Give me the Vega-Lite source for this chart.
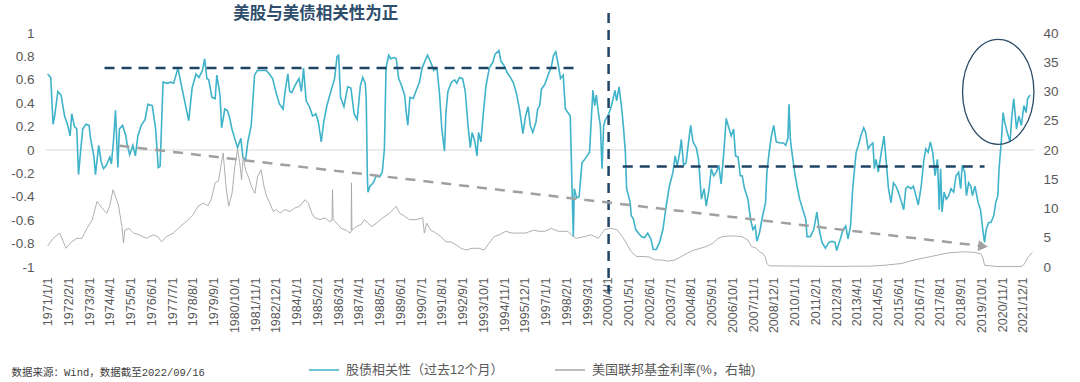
{
"$schema": "https://vega.github.io/schema/vega-lite/v6.json",
"width": 988, "height": 234,
"autosize": {"type": "none"},
"padding": {"left": 46, "top": 33, "right": 46, "bottom": 115},
"background": "white",
"config": {"font": "Liberation Sans, Noto Sans CJK SC", "view": {"stroke": null}},
"datasets": {
"corr": [
{"date":"1971-01-01","corr":0.65},{"date":"1971-03-01","corr":0.62},{"date":"1971-04-15","corr":0.22},{"date":"1971-05-15","corr":0.29},{"date":"1971-07-15","corr":0.50},{"date":"1971-09-15","corr":0.47},{"date":"1971-11-20","corr":0.29},{"date":"1972-01-20","corr":0.21},{"date":"1972-03-05","corr":0.12},{"date":"1972-04-05","corr":0.31},{"date":"1972-05-28","corr":0.20},{"date":"1972-07-10","corr":0.18},{"date":"1972-08-12","corr":-0.21},{"date":"1972-10-01","corr":0.04},{"date":"1972-11-01","corr":0.18},
{"date":"1973-01-01","corr":0.22},{"date":"1973-03-01","corr":0.21},{"date":"1973-04-01","corr":0.09},{"date":"1973-06-01","corr":-0.05},{"date":"1973-07-01","corr":-0.21},{"date":"1973-09-01","corr":0.04},{"date":"1973-10-18","corr":-0.10},{"date":"1973-12-01","corr":-0.16},{"date":"1974-01-25","corr":-0.13},{"date":"1974-04-01","corr":-0.06},{"date":"1974-05-01","corr":-0.12},{"date":"1974-06-12","corr":0.09},{"date":"1974-07-18","corr":0.34},{"date":"1974-09-01","corr":-0.15},{"date":"1974-10-01","corr":0.18},{"date":"1974-12-01","corr":0.21},
{"date":"1975-02-01","corr":0.12},{"date":"1975-03-01","corr":0.04},{"date":"1975-04-15","corr":-0.04},{"date":"1975-06-15","corr":0.04},{"date":"1975-08-01","corr":-0.05},{"date":"1975-09-18","corr":0.12},{"date":"1975-11-21","corr":0.21},{"date":"1976-02-01","corr":0.26},{"date":"1976-03-28","corr":0.39},{"date":"1976-06-18","corr":0.38},{"date":"1976-08-21","corr":0.18},{"date":"1976-10-10","corr":-0.15},{"date":"1976-11-15","corr":-0.14},
{"date":"1977-01-10","corr":0.58},{"date":"1977-04-01","corr":0.57},{"date":"1977-06-01","corr":0.58},{"date":"1977-08-01","corr":0.57},{"date":"1977-10-21","corr":0.70},{"date":"1978-01-01","corr":0.54},{"date":"1978-02-25","corr":0.42},{"date":"1978-05-15","corr":0.25},{"date":"1978-07-18","corr":0.53},{"date":"1978-10-01","corr":0.65},{"date":"1978-11-25","corr":0.62},
{"date":"1979-02-01","corr":0.68},{"date":"1979-03-15","corr":0.78},{"date":"1979-04-25","corr":0.61},{"date":"1979-06-01","corr":0.60},{"date":"1979-08-01","corr":0.45},{"date":"1979-10-01","corr":0.44},{"date":"1979-11-01","corr":0.64},{"date":"1980-01-01","corr":0.47},{"date":"1980-02-01","corr":0.19},{"date":"1980-04-01","corr":0.35},{"date":"1980-05-18","corr":0.34},{"date":"1980-07-01","corr":0.28},{"date":"1980-08-15","corr":0.18},{"date":"1980-10-01","corr":0.11},{"date":"1980-12-01","corr":0.02},
{"date":"1981-02-01","corr":0.10},{"date":"1981-03-12","corr":-0.06},{"date":"1981-05-01","corr":-0.09},{"date":"1981-06-15","corr":0.07},{"date":"1981-08-18","corr":0.21},{"date":"1981-10-21","corr":0.64},{"date":"1981-12-12","corr":0.68},{"date":"1982-03-01","corr":0.68},{"date":"1982-06-01","corr":0.68},{"date":"1982-08-01","corr":0.65},{"date":"1982-10-01","corr":0.61},{"date":"1982-12-10","corr":0.48},
{"date":"1983-02-12","corr":0.39},{"date":"1983-04-18","corr":0.35},{"date":"1983-06-01","corr":0.52},{"date":"1983-07-18","corr":0.65},{"date":"1983-08-21","corr":0.50},{"date":"1983-10-01","corr":0.49},{"date":"1983-12-12","corr":0.56},{"date":"1984-02-15","corr":0.61},{"date":"1984-04-01","corr":0.50},{"date":"1984-05-12","corr":0.70},{"date":"1984-07-01","corr":0.42},{"date":"1984-09-01","corr":0.37},{"date":"1984-11-01","corr":0.29},
{"date":"1985-01-01","corr":0.31},{"date":"1985-02-18","corr":0.24},{"date":"1985-04-15","corr":0.07},{"date":"1985-06-01","corr":0.24},{"date":"1985-08-01","corr":0.38},{"date":"1985-10-21","corr":0.51},{"date":"1985-12-25","corr":0.61},{"date":"1986-02-10","corr":0.80},{"date":"1986-03-12","corr":0.81},{"date":"1986-04-18","corr":0.45},{"date":"1986-06-21","corr":0.37},{"date":"1986-09-01","corr":0.54},{"date":"1986-11-01","corr":0.53},
{"date":"1987-01-01","corr":0.31},{"date":"1987-03-01","corr":0.26},{"date":"1987-05-01","corr":0.55},{"date":"1987-06-15","corr":0.62},{"date":"1987-08-01","corr":0.57},{"date":"1987-08-20","corr":0.45},{"date":"1987-09-10","corr":-0.20},{"date":"1987-09-22","corr":-0.36},{"date":"1987-11-01","corr":-0.31},{"date":"1988-01-01","corr":-0.28},{"date":"1988-03-01","corr":-0.22},{"date":"1988-05-01","corr":-0.23},{"date":"1988-06-21","corr":-0.19},{"date":"1988-08-01","corr":0.01},{"date":"1988-09-01","corr":0.70},{"date":"1988-10-21","corr":0.81},{"date":"1988-12-01","corr":0.78},
{"date":"1989-02-01","corr":0.79},{"date":"1989-03-15","corr":0.78},{"date":"1989-05-01","corr":0.61},{"date":"1989-06-25","corr":0.55},{"date":"1989-08-21","corr":0.47},{"date":"1989-09-21","corr":0.32},{"date":"1989-10-21","corr":0.21},{"date":"1989-12-01","corr":0.45},{"date":"1990-02-01","corr":0.44},{"date":"1990-04-01","corr":0.51},{"date":"1990-06-01","corr":0.58},{"date":"1990-07-21","corr":0.70},{"date":"1990-10-01","corr":0.78},{"date":"1990-11-01","corr":0.81},
{"date":"1991-01-01","corr":0.75},{"date":"1991-03-01","corr":0.68},{"date":"1991-05-01","corr":0.70},{"date":"1991-06-18","corr":0.48},{"date":"1991-08-01","corr":0.18},{"date":"1991-09-21","corr":-0.01},{"date":"1991-10-18","corr":0.32},{"date":"1991-11-25","corr":0.50},{"date":"1992-02-01","corr":0.58},{"date":"1992-04-01","corr":0.60},{"date":"1992-05-12","corr":0.57},{"date":"1992-07-01","corr":0.62},{"date":"1992-09-01","corr":0.61},{"date":"1992-10-21","corr":0.50},{"date":"1992-12-12","corr":0.21},
{"date":"1993-01-25","corr":0.02},{"date":"1993-03-01","corr":0.15},{"date":"1993-04-18","corr":0.08},{"date":"1993-06-01","corr":-0.05},{"date":"1993-07-01","corr":0.15},{"date":"1993-08-15","corr":0.07},{"date":"1993-10-01","corr":0.32},{"date":"1993-11-18","corr":0.54},{"date":"1994-01-21","corr":0.70},{"date":"1994-04-01","corr":0.75},{"date":"1994-05-12","corr":0.82},{"date":"1994-07-25","corr":0.85},{"date":"1994-09-01","corr":0.76},{"date":"1994-11-01","corr":0.72},
{"date":"1995-01-01","corr":0.66},{"date":"1995-03-01","corr":0.62},{"date":"1995-05-01","corr":0.57},{"date":"1995-06-25","corr":0.48},{"date":"1995-08-21","corr":0.35},{"date":"1995-10-25","corr":0.14},{"date":"1995-12-15","corr":0.29},{"date":"1996-02-01","corr":0.37},{"date":"1996-03-12","corr":0.21},{"date":"1996-05-01","corr":0.15},{"date":"1996-07-01","corr":0.24},{"date":"1996-08-01","corr":0.35},{"date":"1996-09-10","corr":0.38},{"date":"1996-10-12","corr":0.52},{"date":"1996-12-15","corr":0.56},
{"date":"1997-02-15","corr":0.64},{"date":"1997-04-18","corr":0.71},{"date":"1997-06-01","corr":0.81},{"date":"1997-07-12","corr":0.84},{"date":"1997-09-01","corr":0.72},{"date":"1997-10-12","corr":0.61},{"date":"1997-12-01","corr":0.64},{"date":"1998-01-12","corr":0.35},{"date":"1998-03-01","corr":0.32},{"date":"1998-04-15","corr":0.29},{"date":"1998-05-15","corr":-0.25},{"date":"1998-06-12","corr":-0.74},{"date":"1998-07-01","corr":-0.33},{"date":"1998-08-15","corr":-0.41},{"date":"1998-10-01","corr":-0.40},{"date":"1998-11-25","corr":-0.11},
{"date":"1999-01-15","corr":-0.08},{"date":"1999-03-01","corr":-0.05},{"date":"1999-04-18","corr":-0.02},{"date":"1999-05-18","corr":0.24},{"date":"1999-06-21","corr":0.51},{"date":"1999-07-25","corr":0.38},{"date":"1999-08-25","corr":0.47},{"date":"1999-10-06","corr":0.31},{"date":"1999-11-10","corr":0.21},{"date":"1999-12-12","corr":-0.16},{"date":"2000-01-12","corr":0.21},{"date":"2000-02-15","corr":0.26},{"date":"2000-04-01","corr":0.29},{"date":"2000-05-21","corr":0.35},{"date":"2000-07-01","corr":0.42},{"date":"2000-08-15","corr":0.51},{"date":"2000-09-15","corr":0.42},{"date":"2000-11-01","corr":0.54},{"date":"2000-12-15","corr":0.38},
{"date":"2001-01-21","corr":0.21},{"date":"2001-03-01","corr":-0.02},{"date":"2001-03-25","corr":-0.33},{"date":"2001-06-01","corr":-0.45},{"date":"2001-06-21","corr":-0.56},{"date":"2001-08-01","corr":-0.59},{"date":"2001-09-15","corr":-0.68},{"date":"2001-11-01","corr":-0.71},{"date":"2002-01-01","corr":-0.74},{"date":"2002-03-01","corr":-0.75},{"date":"2002-05-01","corr":-0.71},{"date":"2002-07-01","corr":-0.76},{"date":"2002-08-15","corr":-0.85},{"date":"2002-10-12","corr":-0.85},{"date":"2002-12-12","corr":-0.79},
{"date":"2003-02-15","corr":-0.68},{"date":"2003-04-18","corr":-0.48},{"date":"2003-06-18","corr":-0.31},{"date":"2003-08-25","corr":-0.19},{"date":"2003-10-06","corr":-0.05},{"date":"2003-11-15","corr":-0.14},{"date":"2004-01-01","corr":-0.02},{"date":"2004-02-01","corr":0.09},{"date":"2004-03-15","corr":-0.13},{"date":"2004-05-01","corr":-0.11},{"date":"2004-06-18","corr":0.07},{"date":"2004-07-28","corr":0.21},{"date":"2004-09-10","corr":0.07},{"date":"2004-11-12","corr":0.02},{"date":"2004-12-25","corr":-0.08},
{"date":"2005-02-18","corr":-0.42},{"date":"2005-04-10","corr":-0.33},{"date":"2005-05-21","corr":-0.48},{"date":"2005-07-15","corr":-0.33},{"date":"2005-08-25","corr":-0.16},{"date":"2005-10-10","corr":-0.22},{"date":"2005-12-01","corr":-0.19},{"date":"2006-01-15","corr":-0.13},{"date":"2006-03-01","corr":-0.29},{"date":"2006-04-21","corr":-0.02},{"date":"2006-06-06","corr":0.27},{"date":"2006-08-01","corr":0.18},{"date":"2006-09-10","corr":0.12},{"date":"2006-10-25","corr":0.18},{"date":"2006-12-01","corr":-0.05},
{"date":"2007-01-18","corr":-0.06},{"date":"2007-03-01","corr":-0.22},{"date":"2007-04-06","corr":-0.22},{"date":"2007-05-21","corr":-0.33},{"date":"2007-07-25","corr":-0.42},{"date":"2007-09-12","corr":-0.59},{"date":"2007-10-28","corr":-0.68},{"date":"2007-12-10","corr":-0.65},{"date":"2008-01-12","corr":-0.78},{"date":"2008-03-01","corr":-0.71},{"date":"2008-04-18","corr":-0.59},{"date":"2008-06-25","corr":-0.45},{"date":"2008-07-21","corr":-0.19},{"date":"2008-09-01","corr":-0.02},{"date":"2008-10-15","corr":0.12},{"date":"2008-11-28","corr":0.21},
{"date":"2009-01-15","corr":0.07},{"date":"2009-04-01","corr":0.06},{"date":"2009-06-01","corr":0.06},{"date":"2009-07-15","corr":0.04},{"date":"2009-08-25","corr":0.10},{"date":"2009-09-15","corr":0.39},{"date":"2009-10-10","corr":0.10},{"date":"2009-11-01","corr":0.01},{"date":"2010-01-01","corr":-0.19},{"date":"2010-02-15","corr":-0.31},{"date":"2010-04-06","corr":-0.42},{"date":"2010-06-06","corr":-0.51},{"date":"2010-08-01","corr":-0.59},{"date":"2010-08-25","corr":-0.74},{"date":"2010-10-28","corr":-0.74},
{"date":"2011-01-01","corr":-0.68},{"date":"2011-03-01","corr":-0.53},{"date":"2011-04-15","corr":-0.68},{"date":"2011-06-06","corr":-0.79},{"date":"2011-08-12","corr":-0.84},{"date":"2011-10-15","corr":-0.79},{"date":"2011-12-15","corr":-0.78},{"date":"2012-02-10","corr":-0.79},{"date":"2012-03-12","corr":-0.86},{"date":"2012-05-21","corr":-0.76},{"date":"2012-07-12","corr":-0.68},{"date":"2012-09-01","corr":-0.65},{"date":"2012-10-15","corr":-0.76},{"date":"2012-12-01","corr":-0.65},
{"date":"2013-01-12","corr":-0.33},{"date":"2013-03-18","corr":-0.02},{"date":"2013-05-01","corr":0.04},{"date":"2013-06-15","corr":0.12},{"date":"2013-08-10","corr":0.19},{"date":"2013-09-15","corr":0.15},{"date":"2013-11-01","corr":0.01},{"date":"2013-12-15","corr":0.04},{"date":"2014-02-01","corr":0.06},{"date":"2014-03-01","corr":-0.16},{"date":"2014-04-01","corr":-0.08},{"date":"2014-05-15","corr":-0.19},{"date":"2014-07-01","corr":-0.05},{"date":"2014-09-01","corr":0.12},{"date":"2014-10-15","corr":-0.11},{"date":"2014-11-25","corr":-0.33},
{"date":"2015-01-12","corr":-0.45},{"date":"2015-03-01","corr":-0.28},{"date":"2015-04-18","corr":-0.31},{"date":"2015-06-01","corr":-0.36},{"date":"2015-07-15","corr":-0.42},{"date":"2015-09-12","corr":-0.51},{"date":"2015-10-21","corr":-0.33},{"date":"2015-12-01","corr":-0.31},{"date":"2016-01-28","corr":-0.33},{"date":"2016-03-15","corr":-0.31},{"date":"2016-05-01","corr":-0.39},{"date":"2016-06-15","corr":-0.47},{"date":"2016-08-10","corr":-0.31},{"date":"2016-10-01","corr":-0.08},{"date":"2016-11-06","corr":0.01},{"date":"2016-12-21","corr":-0.02},
{"date":"2017-02-01","corr":0.07},{"date":"2017-03-18","corr":-0.02},{"date":"2017-05-01","corr":-0.22},{"date":"2017-06-15","corr":-0.08},{"date":"2017-07-21","corr":-0.51},{"date":"2017-08-15","corr":-0.16},{"date":"2017-09-12","corr":-0.53},{"date":"2017-10-21","corr":-0.36},{"date":"2017-12-01","corr":-0.42},{"date":"2018-01-18","corr":-0.39},{"date":"2018-03-01","corr":-0.33},{"date":"2018-04-21","corr":-0.36},{"date":"2018-06-06","corr":-0.22},{"date":"2018-07-25","corr":-0.19},{"date":"2018-09-01","corr":-0.33},{"date":"2018-10-01","corr":-0.13},{"date":"2018-11-18","corr":-0.19},{"date":"2018-12-21","corr":-0.39},
{"date":"2019-02-01","corr":-0.28},{"date":"2019-03-15","corr":-0.31},{"date":"2019-04-15","corr":-0.39},{"date":"2019-06-01","corr":-0.31},{"date":"2019-08-01","corr":-0.45},{"date":"2019-09-15","corr":-0.51},{"date":"2019-10-28","corr":-0.68},{"date":"2019-12-01","corr":-0.79},{"date":"2020-01-01","corr":-0.68},{"date":"2020-02-18","corr":-0.62},{"date":"2020-04-01","corr":-0.62},{"date":"2020-05-25","corr":-0.56},{"date":"2020-07-01","corr":-0.45},{"date":"2020-08-10","corr":-0.39},{"date":"2020-09-03","corr":-0.16},{"date":"2020-10-18","corr":0.09},{"date":"2020-11-18","corr":0.32},{"date":"2020-12-18","corr":0.24},
{"date":"2021-02-06","corr":0.15},{"date":"2021-04-01","corr":0.07},{"date":"2021-05-01","corr":0.27},{"date":"2021-06-10","corr":0.44},{"date":"2021-08-01","corr":0.18},{"date":"2021-09-15","corr":0.29},{"date":"2021-11-01","corr":0.21},{"date":"2021-12-21","corr":0.38},{"date":"2022-02-01","corr":0.32},{"date":"2022-03-01","corr":0.44},{"date":"2022-04-18","corr":0.47}
],
"rate": [
{"date":"1971-01-01","rate":3.6},{"date":"1971-04-15","rate":4.9},{"date":"1971-08-20","rate":5.8},{"date":"1971-12-18","rate":3.2},{"date":"1972-04-01","rate":4.3},{"date":"1972-07-12","rate":4.9},{"date":"1972-10-15","rate":4.9},{"date":"1973-01-21","rate":6.6},{"date":"1973-05-01","rate":8.1},{"date":"1973-08-01","rate":11.2},{"date":"1973-11-01","rate":10.1},{"date":"1974-02-01","rate":9.2},{"date":"1974-04-01","rate":10.5},{"date":"1974-06-01","rate":13.2},{"date":"1974-09-12","rate":10.6},{"date":"1974-11-18","rate":6.9},{"date":"1974-12-18","rate":4.1},
{"date":"1975-01-10","rate":6.3},{"date":"1975-04-01","rate":6.6},{"date":"1975-07-01","rate":5.8},{"date":"1975-10-18","rate":5.5},{"date":"1976-02-25","rate":4.9},{"date":"1976-07-01","rate":5.5},{"date":"1976-10-01","rate":5.2},{"date":"1976-12-15","rate":4.3},{"date":"1977-03-18","rate":5.2},{"date":"1977-07-25","rate":5.8},{"date":"1977-12-01","rate":6.9},{"date":"1978-04-01","rate":7.8},{"date":"1978-08-01","rate":8.9},{"date":"1978-11-10","rate":10.4},
{"date":"1979-02-15","rate":10.9},{"date":"1979-05-18","rate":10.5},{"date":"1979-07-15","rate":11.5},{"date":"1979-10-01","rate":14.4},{"date":"1979-12-01","rate":14.7},{"date":"1980-03-01","rate":19.5},{"date":"1980-05-01","rate":13.2},{"date":"1980-06-15","rate":10.4},{"date":"1980-08-18","rate":12.6},{"date":"1980-10-10","rate":17.2},{"date":"1980-12-01","rate":20.1},{"date":"1981-01-12","rate":17.8},{"date":"1981-02-15","rate":14.9},{"date":"1981-03-18","rate":18.9},{"date":"1981-05-01","rate":16.6},{"date":"1981-06-21","rate":15.5},{"date":"1981-08-25","rate":13.7},{"date":"1981-10-28","rate":12.6},{"date":"1981-12-18","rate":15.5},
{"date":"1982-02-21","rate":16.6},{"date":"1982-04-21","rate":13.7},{"date":"1982-06-06","rate":12.1},{"date":"1982-08-10","rate":10.9},{"date":"1982-10-12","rate":9.5},{"date":"1982-12-15","rate":9.8},{"date":"1983-02-18","rate":9.2},{"date":"1983-05-21","rate":9.8},{"date":"1983-08-28","rate":9.5},{"date":"1983-12-01","rate":10.1},{"date":"1984-03-01","rate":10.4},{"date":"1984-06-10","rate":11.5},{"date":"1984-08-12","rate":10.9},{"date":"1984-10-15","rate":9.2},{"date":"1984-12-15","rate":8.4},
{"date":"1985-03-21","rate":8.1},{"date":"1985-06-25","rate":8.4},{"date":"1985-09-12","rate":7.8},{"date":"1985-11-06","rate":7.9},{"date":"1985-11-15","rate":13.2},{"date":"1985-11-28","rate":8.1},{"date":"1986-02-21","rate":7.3},{"date":"1986-05-01","rate":6.6},{"date":"1986-08-01","rate":6.3},{"date":"1986-10-15","rate":5.8},{"date":"1986-11-06","rate":6.0},{"date":"1986-11-12","rate":14.4},{"date":"1986-11-21","rate":6.3},
{"date":"1987-02-12","rate":6.9},{"date":"1987-05-18","rate":7.3},{"date":"1987-07-18","rate":8.1},{"date":"1987-09-21","rate":7.5},{"date":"1987-12-01","rate":6.9},{"date":"1988-03-01","rate":7.5},{"date":"1988-07-01","rate":8.4},{"date":"1988-11-10","rate":9.2},{"date":"1989-03-15","rate":10.4},{"date":"1989-05-15","rate":9.2},{"date":"1989-07-18","rate":8.9},{"date":"1989-11-21","rate":8.1},{"date":"1990-03-28","rate":8.1},{"date":"1990-08-01","rate":8.4},{"date":"1990-09-01","rate":5.8},{"date":"1990-10-15","rate":7.5},
{"date":"1991-01-01","rate":6.3},{"date":"1991-04-10","rate":5.8},{"date":"1991-07-12","rate":5.2},{"date":"1991-10-18","rate":4.3},{"date":"1992-01-21","rate":4.3},{"date":"1992-04-25","rate":3.8},{"date":"1992-08-01","rate":3.2},{"date":"1992-11-01","rate":2.9},{"date":"1993-03-01","rate":3.2},{"date":"1993-07-12","rate":3.2},{"date":"1993-10-15","rate":2.9},{"date":"1994-01-21","rate":4.1},{"date":"1994-04-25","rate":5.2},{"date":"1994-08-01","rate":5.5},{"date":"1994-12-01","rate":6.1},
{"date":"1995-04-01","rate":5.8},{"date":"1995-08-10","rate":5.8},{"date":"1995-12-12","rate":5.8},{"date":"1996-05-21","rate":6.3},{"date":"1996-08-25","rate":6.1},{"date":"1996-12-15","rate":6.1},{"date":"1997-04-18","rate":6.6},{"date":"1997-09-01","rate":6.1},{"date":"1998-03-01","rate":6.1},{"date":"1998-05-01","rate":5.5},{"date":"1998-08-06","rate":4.9},{"date":"1999-01-15","rate":5.2},{"date":"1999-05-18","rate":5.5},{"date":"1999-10-01","rate":4.9},{"date":"2000-02-01","rate":6.4},{"date":"2000-05-21","rate":6.6},{"date":"2000-09-18","rate":6.4},
{"date":"2001-01-01","rate":5.2},{"date":"2001-03-18","rate":4.1},{"date":"2001-06-21","rate":2.6},{"date":"2001-10-01","rate":1.8},{"date":"2002-02-01","rate":1.8},{"date":"2002-06-01","rate":1.7},{"date":"2002-09-18","rate":1.2},{"date":"2003-01-18","rate":1.2},{"date":"2003-05-25","rate":1.0},{"date":"2003-10-01","rate":1.2},{"date":"2004-02-01","rate":1.8},{"date":"2004-06-01","rate":2.4},{"date":"2004-10-01","rate":2.9},{"date":"2005-02-01","rate":3.2},{"date":"2005-05-21","rate":3.5},{"date":"2005-10-01","rate":4.1},
{"date":"2006-01-01","rate":4.9},{"date":"2006-04-01","rate":5.2},{"date":"2006-08-01","rate":5.3},{"date":"2006-12-01","rate":5.3},{"date":"2007-04-01","rate":5.2},{"date":"2007-07-25","rate":4.6},{"date":"2007-10-01","rate":3.5},{"date":"2008-01-01","rate":3.2},{"date":"2008-03-01","rate":2.6},{"date":"2008-05-01","rate":2.3},{"date":"2008-06-15","rate":1.8},{"date":"2008-07-21","rate":0.6},{"date":"2008-09-01","rate":0.2},
{"date":"2010-04-01","rate":0.15},{"date":"2012-01-01","rate":0.1},{"date":"2013-12-01","rate":0.15},{"date":"2014-09-15","rate":0.3},{"date":"2015-08-01","rate":0.6},{"date":"2016-04-01","rate":1.2},{"date":"2017-02-15","rate":1.8},{"date":"2018-01-01","rate":2.4},{"date":"2018-11-18","rate":2.6},{"date":"2019-05-25","rate":2.5},{"date":"2019-10-01","rate":2.2},{"date":"2019-11-01","rate":1.5},{"date":"2019-12-01","rate":0.3},{"date":"2020-08-01","rate":0.08},{"date":"2021-11-01","rate":0.08},{"date":"2022-01-01","rate":0.5},{"date":"2022-03-01","rate":1.6},{"date":"2022-06-01","rate":2.5}
]
},
"encoding": {
  "x": {"field": "date", "type": "temporal",
    "scale": {"type": "utc", "domain": [{"year":1970,"month":12,"date":1,"utc":true},{"year":2022,"month":7,"date":1,"utc":true}]},
    "axis": {"title": null, "grid": false, "domain": false, "ticks": false, "labelAngle": -90, "labelPadding": 10, "labelFontSize": 12.5, "labelColor": "#595959", "labelOverlap": false, "labelBound": false, "labelFlush": false,
      "labelExpr": "utcFormat(datum.value, '%Y/%-m/%-d')",
      "values": [
        {"year":1971,"month":1,"date":1,"utc":true},{"year":1972,"month":2,"date":1,"utc":true},{"year":1973,"month":3,"date":1,"utc":true},{"year":1974,"month":4,"date":1,"utc":true},{"year":1975,"month":5,"date":1,"utc":true},{"year":1976,"month":6,"date":1,"utc":true},{"year":1977,"month":7,"date":1,"utc":true},{"year":1978,"month":8,"date":1,"utc":true},{"year":1979,"month":9,"date":1,"utc":true},{"year":1980,"month":10,"date":1,"utc":true},{"year":1981,"month":11,"date":1,"utc":true},{"year":1982,"month":12,"date":1,"utc":true},
        {"year":1984,"month":1,"date":1,"utc":true},{"year":1985,"month":2,"date":1,"utc":true},{"year":1986,"month":3,"date":1,"utc":true},{"year":1987,"month":4,"date":1,"utc":true},{"year":1988,"month":5,"date":1,"utc":true},{"year":1989,"month":6,"date":1,"utc":true},{"year":1990,"month":7,"date":1,"utc":true},{"year":1991,"month":8,"date":1,"utc":true},{"year":1992,"month":9,"date":1,"utc":true},{"year":1993,"month":10,"date":1,"utc":true},{"year":1994,"month":11,"date":1,"utc":true},{"year":1995,"month":12,"date":1,"utc":true},
        {"year":1997,"month":1,"date":1,"utc":true},{"year":1998,"month":2,"date":1,"utc":true},{"year":1999,"month":3,"date":1,"utc":true},{"year":2000,"month":4,"date":1,"utc":true},{"year":2001,"month":5,"date":1,"utc":true},{"year":2002,"month":6,"date":1,"utc":true},{"year":2003,"month":7,"date":1,"utc":true},{"year":2004,"month":8,"date":1,"utc":true},{"year":2005,"month":9,"date":1,"utc":true},{"year":2006,"month":10,"date":1,"utc":true},{"year":2007,"month":11,"date":1,"utc":true},{"year":2008,"month":12,"date":1,"utc":true},
        {"year":2010,"month":1,"date":1,"utc":true},{"year":2011,"month":2,"date":1,"utc":true},{"year":2012,"month":3,"date":1,"utc":true},{"year":2013,"month":4,"date":1,"utc":true},{"year":2014,"month":5,"date":1,"utc":true},{"year":2015,"month":6,"date":1,"utc":true},{"year":2016,"month":7,"date":1,"utc":true},{"year":2017,"month":8,"date":1,"utc":true},{"year":2018,"month":9,"date":1,"utc":true},{"year":2019,"month":10,"date":1,"utc":true},{"year":2020,"month":11,"date":1,"utc":true},{"year":2021,"month":12,"date":1,"utc":true}
      ]}
  }
},
"layer": [
  {
    "encoding": {
      "y": {"field": "corr", "type": "quantitative",
        "scale": {"domain": [-1, 1], "nice": false, "zero": false},
        "axis": {"title": null, "grid": false, "domain": false, "ticks": false, "labelPadding": 12, "labelFontSize": 13.5, "labelColor": "#595959",
          "values": [-1,-0.8,-0.6,-0.4,-0.2,0,0.2,0.4,0.6,0.8,1],
          "labelExpr": "'' + round(datum.value*10)/10"}}
    },
    "layer": [
      {"data": {"values": [{"date":"1970-12-01","date2":"2022-07-01","corr":0}]},
       "mark": {"type": "rule", "color": "#d9d9d9", "strokeWidth": 1},
       "encoding": {"x2": {"field": "date2"}}},
      {"data": {"name": "corr"},
       "mark": {"type": "line", "strokeWidth": 1.6, "interpolate": "linear"},
       "encoding": {"color": {"datum": "股债相关性（过去12个月）", "type": "nominal",
          "scale": {"domain": ["股债相关性（过去12个月）", "美国联邦基金利率(%，右轴)"], "range": ["#3fb3c9", "#a6a6a6"]},
          "legend": {"title": null, "orient": "none", "legendX": 262, "legendY": 321, "direction": "horizontal", "columns": 2, "symbolType": "stroke", "symbolSize": 900, "symbolStrokeWidth": 1.5, "labelFontSize": 13, "labelColor": "#595959", "labelOffset": 6, "labelLimit": 400, "columnPadding": 48, "padding": 0}}}},
      {"data": {"values": [
          {"date":"1973-12-21","date2":"1998-10-10","corr":0.70},
          {"date":"2001-01-10","date2":"2019-12-01","corr":-0.14}]},
       "mark": {"type": "rule", "color": "#1f4466", "strokeWidth": 2.5, "strokeDash": [10, 7]},
       "encoding": {"x2": {"field": "date2"}}},
      {"data": {"values": [{"date":"2000-04-15","corr":1.17,"corr2":-1.22}]},
       "mark": {"type": "rule", "color": "#1f4466", "strokeWidth": 2.5, "strokeDash": [10, 7]},
       "encoding": {"y2": {"field": "corr2"}}},
      {"data": {"values": [{"date":"1974-10-01","date2":"2019-10-01","corr":0.037,"corr2":-0.82}]},
       "mark": {"type": "rule", "color": "#a0a0a0", "strokeWidth": 2.5, "strokeDash": [10, 8]},
       "encoding": {"x2": {"field": "date2"}, "y2": {"field": "corr2"}}},
      {"data": {"values": [{"date":"2019-11-01","corr":-0.822}]},
       "mark": {"type": "point", "shape": "triangle-right", "angle": 6.6, "size": 120, "filled": true, "color": "#a0a0a0", "opacity": 1}},
      {"data": {"values": [{"date":"2020-08-18","corr":0.497}]},
       "mark": {"type": "point", "shape": "M 0 -1 C 0.3756 -1 0.68 -0.5523 0.68 0 C 0.68 0.5523 0.3756 1 0 1 C -0.3756 1 -0.68 0.5523 -0.68 0 C -0.68 -0.5523 -0.3756 -1 0 -1 Z", "size": 11025, "filled": false, "color": "#2b4a66", "strokeWidth": 1.3, "opacity": 1}},
      {"data": {"values": [{"date":"1985-01-01","corr":1.162,"label":"美股与美债相关性为正"}]},
       "mark": {"type": "text", "fontSize": 16.5, "fontWeight": "bold", "color": "#2e4d6b", "align": "center", "baseline": "middle", "font": "Noto Sans CJK SC"},
       "encoding": {"text": {"field": "label"}}},
      {"data": {"values": [{"date":"1969-02-12","corr":-1.906,"label":"数据来源：Wind，数据截至2022/09/16"}]},
       "mark": {"type": "text", "fontSize": 10.5, "color": "#404040", "align": "left", "baseline": "middle", "font": "Liberation Mono, Noto Sans CJK SC"},
       "encoding": {"text": {"field": "label"}}}
    ]
  },
  {
    "data": {"name": "rate"},
    "mark": {"type": "line", "strokeWidth": 0.9},
    "encoding": {
      "y": {"field": "rate", "type": "quantitative",
        "scale": {"domain": [0, 40], "nice": false},
        "axis": {"orient": "right", "title": null, "grid": false, "domain": false, "ticks": false, "labelPadding": 9, "labelFontSize": 13.5, "labelColor": "#595959", "values": [0,5,10,15,20,25,30,35,40]}},
      "color": {"datum": "美国联邦基金利率(%，右轴)", "type": "nominal"}
    }
  }
],
"resolve": {"scale": {"y": "independent"}}
}
